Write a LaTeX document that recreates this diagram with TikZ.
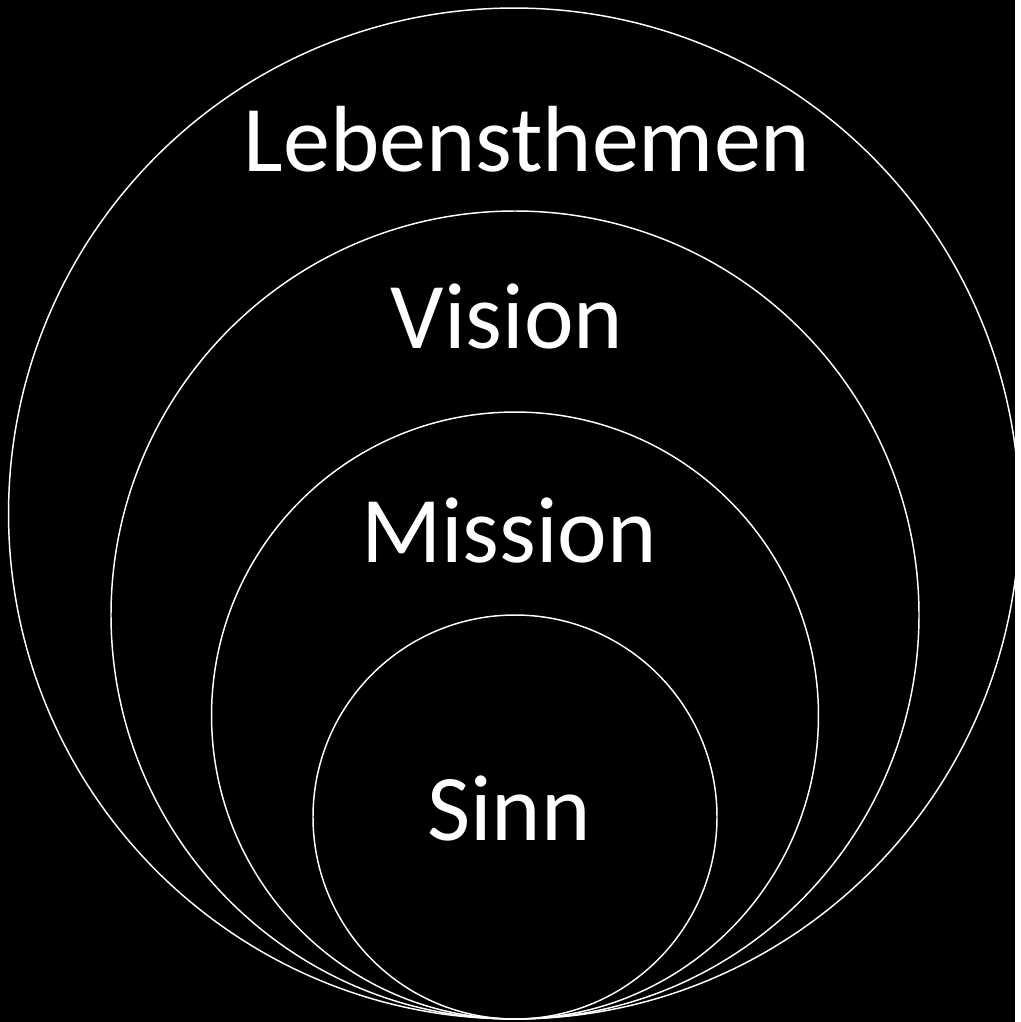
\documentclass[tikz,border=0pt]{standalone}
\usepackage{fontspec}
\setmainfont{Carlito}
\usepackage{tikz}
\usetikzlibrary{positioning}

\begin{document}
\begin{tikzpicture}[
    ring/.style={draw=white, line width=1.1pt},
    word/.style={text=white, anchor=base, inner sep=0pt, font=\fontsize{70.5}{80}\selectfont},
    x=0.75pt, y=-0.75pt
]
% --- Background ---
\fill[black] (0,0) rectangle (1015,1022);

% --- Rings (all touching at the bottom) ---
\draw[ring] (514,513.5) circle[radius=379.1pt];
\draw[ring] (515,615)   circle[radius=303pt];
\draw[ring] (515,715.5) circle[radius=227.6pt];
\draw[ring] (515,817)   circle[radius=151.5pt];

% --- Labels ---
\node[word] (themen)  at (527,171) {Lebensthemen};
\node[word] (vision)  at (507,348) {Vision};
\node[word] (mission) at (509,562) {Mission};
\node[word] (sinn)    at (509,840) {Sinn};

\end{tikzpicture}
\end{document}
